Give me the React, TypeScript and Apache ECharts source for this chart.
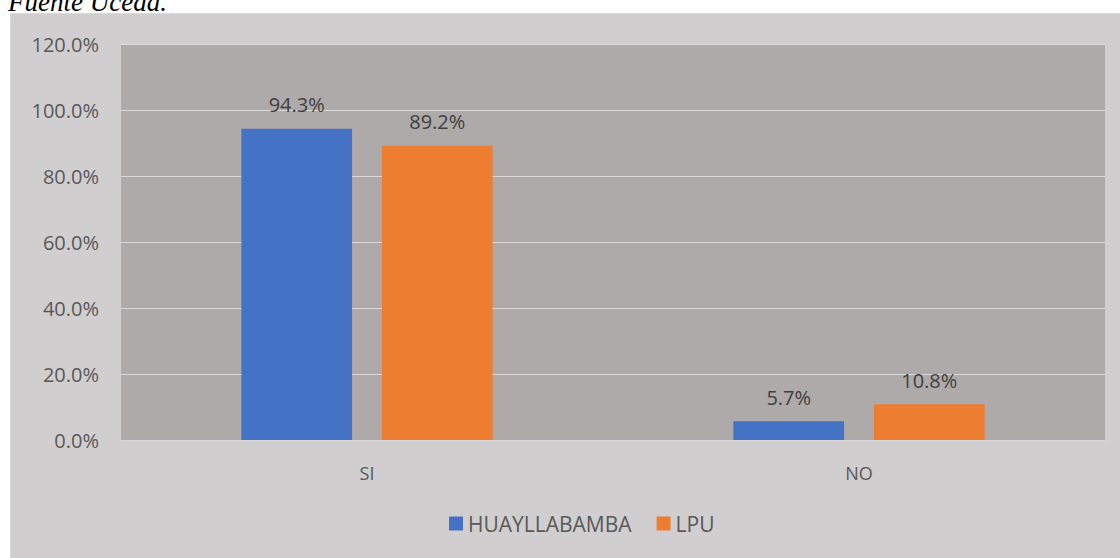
import React, { useEffect, useRef } from "react";
import * as echarts from "echarts";

const categories = ["SI", "NO"];
const seriesNames = ["HUAYLLABAMBA", "LPU"];
const huayllabamba = [94.3, 5.7];
const lpu = [89.2, 10.8];
const colors = ["#4472c4", "#ed7d31"];
const yTicks = { min: 0, max: 120, interval: 20 };
const caption = "Fuente Uceda.";

export default function App() {
  const ref = useRef<HTMLDivElement>(null);
  useEffect(() => {
    document.body.style.margin = "0";
    const chart = echarts.init(ref.current!, null, { renderer: "svg" });
    const font = "'Open Sans', sans-serif";
    const label = {
      show: true,
      position: "top",
      distance: 14,
      color: "#404040",
      fontSize: 20,
      fontFamily: font,
      formatter: (p: any) => p.value.toFixed(1) + "%",
    };
    chart.setOption({
      animation: false,
      graphic: [
        {
          type: "rect",
          shape: { x: 10.5, y: 13.5, width: 1120, height: 560 },
          style: { fill: "#d0cecf", stroke: "#d9d9d9", lineWidth: 1 },
          z: -10,
          silent: true,
        },
        {
          type: "text",
          x: 8,
          y: 15,
          style: {
            text: caption,
            fontFamily: "'Liberation Serif', serif",
            fontStyle: "italic",
            fontSize: 27,
            fill: "#000",
            textVerticalAlign: "bottom",
          },
        },
      ],
      grid: {
        left: 121,
        right: 15,
        top: 44,
        bottom: 118,
        show: true,
        backgroundColor: "#aeaaaa",
        borderWidth: 0,
      },
      legend: {
        bottom: 19,
        left: 444,
        icon: "rect",
        itemWidth: 14,
        itemHeight: 14,
        itemGap: 25,
        textStyle: { color: "#595959", fontSize: 21, fontFamily: font },
        data: seriesNames,
      },
      xAxis: {
        type: "category",
        data: categories,
        axisLine: { show: true, lineStyle: { color: "#d9d9d9", width: 1 } },
        axisTick: { show: false },
        axisLabel: { color: "#595959", fontSize: 18, fontFamily: font, margin: 24 },
      },
      yAxis: {
        type: "value",
        min: yTicks.min,
        max: yTicks.max,
        interval: yTicks.interval,
        axisLine: { show: false },
        axisTick: { show: false },
        splitLine: { lineStyle: { color: "#d9d9d9", width: 1 } },
        axisLabel: {
          color: "#595959",
          fontSize: 20,
          fontFamily: font,
          margin: 22,
          formatter: (v: number) => v.toFixed(1) + "%",
        },
      },
      series: [
        {
          name: seriesNames[0],
          type: "bar",
          data: huayllabamba,
          barWidth: "22.5%",
          barGap: "27%",
          itemStyle: { color: colors[0] },
          label,
        },
        {
          name: seriesNames[1],
          type: "bar",
          data: lpu,
          barWidth: "22.5%",
          barGap: "27%",
          itemStyle: { color: colors[1] },
          label,
        },
      ],
    });
    return () => chart.dispose();
  }, []);
  return (
    <div
      ref={ref}
      style={{ position: "absolute", left: 0, top: 0, width: 1120, height: 558, background: "#fff" }}
    />
  );
}
